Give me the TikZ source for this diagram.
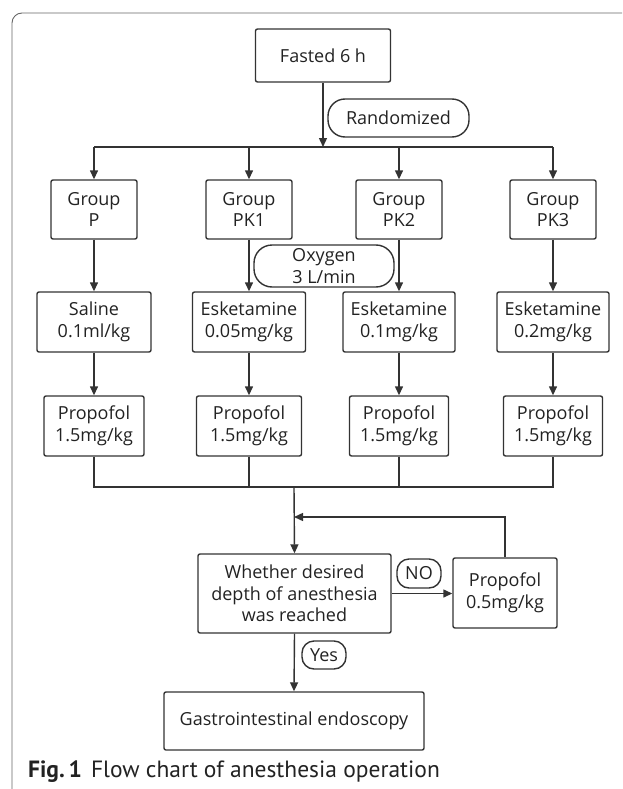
\documentclass[tikz,border=0pt]{standalone}
\usepackage{fontspec}
\setmainfont{Open Sans}
\newfontfamily\capfont{PT Sans}
\usetikzlibrary{arrows.meta}
\definecolor{lc}{HTML}{333333}
\definecolor{tc}{HTML}{222222}
\definecolor{fc}{HTML}{666666}
\begin{document}
\begin{tikzpicture}[x=1pt,y=-1pt,
  box/.style={draw=lc, line width=1.4pt, rounded corners=2pt, align=center, inner sep=0pt,
    font=\fontsize{18}{21.5}\selectfont, text=tc},
  pill/.style={box},
  ln/.style={draw=lc, line width=1.4pt},
  arr/.style={ln, -{Triangle[length=9pt,width=8pt]}}]
\useasboundingbox (0,0) rectangle (622,789);
% frame
\draw[fc, line width=0.9pt, rounded corners=10pt] (12,789) -- (12,13) -- (622,13);
% top
\node[box, minimum width=135pt, minimum height=53pt] (fast) at (323,55.5) {Fasted 6 h};
\node[pill, rounded corners=17pt, minimum width=141pt, minimum height=38pt] (rand) at (398.5,118) {Randomized};
\coordinate (b1) at (323,147);
% groups
\node[box, minimum width=86pt, minimum height=59pt] (gP)  at (94,209.5)  {Group\\P};
\node[box, minimum width=86pt, minimum height=59pt] (gK1) at (249,209.5) {Group\\PK1};
\node[box, minimum width=86pt, minimum height=59pt] (gK2) at (399,209.5) {Group\\PK2};
\node[box, minimum width=86pt, minimum height=59pt] (gK3) at (553,209.5) {Group\\PK3};
% oxygen
\node[pill, rounded corners=18pt, minimum width=140pt, minimum height=42pt] (oxy) at (324,266) {Oxygen\\3 L/min};
% drugs
\node[box, minimum width=114pt, minimum height=60pt] (eP)  at (94,322)  {Saline\\0.1ml/kg};
\node[box, minimum width=113pt, minimum height=60pt] (eK1) at (249,322) {Esketamine\\0.05mg/kg};
\node[box, minimum width=112pt, minimum height=60pt] (eK2) at (399,322) {Esketamine\\0.1mg/kg};
\node[box, minimum width=112pt, minimum height=60pt] (eK3) at (553,322) {Esketamine\\0.2mg/kg};
% propofol
\node[box, minimum width=100pt, minimum height=60pt] (pP)  at (94,426)  {Propofol\\1.5mg/kg};
\node[box, minimum width=105pt, minimum height=60pt] (pK1) at (249,426) {Propofol\\1.5mg/kg};
\node[box, minimum width=99pt,  minimum height=60pt] (pK2) at (399,426) {Propofol\\1.5mg/kg};
\node[box, minimum width=99pt,  minimum height=60pt] (pK3) at (553,426) {Propofol\\1.5mg/kg};
\coordinate (b2) at (294,487);
\coordinate (fb) at (294,517);
% decision
\node[box, minimum width=193pt, minimum height=79pt] (dec) at (294.5,593.5) {Whether desired\\depth of anesthesia\\was reached};
\node[box, minimum width=104pt, minimum height=70pt] (p05) at (505,593) {Propofol\\0.5mg/kg};
\node[pill, rounded corners=12pt, minimum width=44pt, minimum height=29pt] (no) at (419,573.5) {NO};
\node[pill, rounded corners=12pt, minimum width=44pt, minimum height=28pt] (yes) at (324,655) {Yes};
\node[box, minimum width=260pt, minimum height=58pt] (gas) at (294,721) {Gastrointestinal endoscopy};
% caption
\node[anchor=west, inner sep=0pt, text=tc, font=\capfont\fontsize{23.5}{25}\selectfont] (cap) at (28,772)
  {\textbf{Fig.\,1}\hspace{9pt}Flow chart of anesthesia operation};
% connectors
\draw[arr] (fast.south) -- (b1);
\draw[ln] (gP.north |- b1) -- (gK3.north |- b1);
\foreach \g in {gP,gK1,gK2,gK3} \draw[arr] (\g.north |- b1) -- (\g.north);
\draw[arr] (gP) -- (eP);
\draw[arr] (gK1) -- (eK1);
\draw[arr] (gK2) -- (eK2);
\draw[arr] (gK3) -- (eK3);
\draw[arr] (eP) -- (pP);
\draw[arr] (eK1) -- (pK1);
\draw[arr] (eK2) -- (pK2);
\draw[arr] (eK3) -- (pK3);
\draw[ln] (pP.south) |- (pK3.south |- b2) -- (pK3.south);
\draw[ln] (pK1.south) -- (pK1.south |- b2);
\draw[ln] (pK2.south) -- (pK2.south |- b2);
\draw[arr] (b2) -- (dec.north);
\draw[arr] (p05.north) |- (fb);
\draw[arr] (dec.east) -- (dec.east -| p05.west);
\draw[arr] (dec.south) -- (gas.north);
\end{tikzpicture}
\end{document}
